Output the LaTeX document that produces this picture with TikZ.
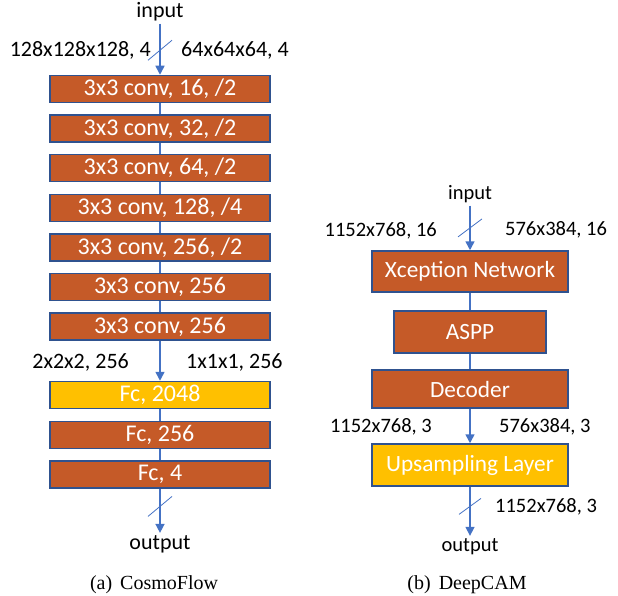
\documentclass[tikz,border=0pt]{standalone}
\usepackage{fontspec}
\setmainfont{Carlito}
\newfontfamily\capfont{Liberation Serif}
\usetikzlibrary{arrows.meta}

\definecolor{layerbrown}{HTML}{C55A28}
\definecolor{fcyellow}{HTML}{FFC000}
\definecolor{edgeblue}{HTML}{2F528F}
\definecolor{flowblue}{HTML}{4472C4}

\begin{document}
\begin{tikzpicture}[x=1pt,y=-1pt,
		font=\fontsize{22}{26}\selectfont,
		layer/.style={draw=edgeblue,line width=1.5pt,fill=layerbrown,text=white,inner sep=0pt,font=\fontsize{24}{28}\selectfont},
		fc/.style={layer,fill=fcyellow},
		tag/.style={inner sep=2pt},
		flow/.style={flowblue,line width=1.5pt},
		into/.style={flow,-{Triangle[length=9pt,width=9pt]}},
		cut/.style={flowblue,line width=0.8pt},
		caption/.style={font=\capfont\fontsize{20}{24}\selectfont,anchor=base}]
	\useasboundingbox (0,0) rectangle (618,596);

	% (a) CosmoFlow
	\node[tag,anchor=base] (in1) at (160,18) {input};
	\node[layer,minimum width=220pt,minimum height=27pt] (c1) at (160,89) {3x3 conv, 16, /2};
	\node[layer,minimum width=220pt,minimum height=27pt] (c2) at (160,128.6) {3x3 conv, 32, /2};
	\node[layer,minimum width=220pt,minimum height=27pt] (c3) at (160,168.2) {3x3 conv, 64, /2};
	\node[layer,minimum width=220pt,minimum height=27pt] (c4) at (160,207.8) {3x3 conv, 128, /4};
	\node[layer,minimum width=220pt,minimum height=27pt] (c5) at (160,247.4) {3x3 conv, 256, /2};
	\node[layer,minimum width=220pt,minimum height=27pt] (c6) at (160,287) {3x3 conv, 256};
	\node[layer,minimum width=220pt,minimum height=27pt] (c7) at (160,326.6) {3x3 conv, 256};
	\node[fc,minimum width=220pt,minimum height=27pt] (f1) at (160,395) {Fc, 2048};
	\node[layer,minimum width=220pt,minimum height=27pt] (f2) at (160,435) {Fc, 256};
	\node[layer,minimum width=220pt,minimum height=27pt] (f3) at (160,474.5) {Fc, 4};
	\node[tag,anchor=base] (out1) at (160,549) {output};

	\node[tag,anchor=east] (l1) at (153,50) {128x128x128, 4};
	\node[tag,anchor=west] (r1) at (179,50) {64x64x64, 4};
	\node[tag,anchor=east] (l2) at (131,362) {2x2x2, 256};
	\node[tag,anchor=west] (r2) at (184,362) {1x1x1, 256};

	\draw[into] (in1) -- coordinate[pos=0.52] (s1) (c1);
	\draw[flow] (c1) -- (c2);
	\draw[flow] (c2) -- (c3);
	\draw[flow] (c3) -- (c4);
	\draw[flow] (c4) -- (c5);
	\draw[flow] (c5) -- (c6);
	\draw[flow] (c6) -- (c7);
	\draw[into] (c7) -- (f1);
	\draw[flow] (f1) -- (f2);
	\draw[flow] (f2) -- (f3);
	\draw[into] (f3) -- coordinate[pos=0.4] (s2) (out1);
	\draw[cut] ([shift={(-12,10)}]s1) -- ([shift={(12,-10)}]s1);
	\draw[cut] ([shift={(-12,10)}]s2) -- ([shift={(12,-10)}]s2);

	\node[caption] (capa) at (154,589) {(a)\hspace{8pt}CosmoFlow};

	% (b) DeepCAM
	\begin{scope}[font=\fontsize{20.5}{24}\selectfont,layer/.append style={font=\fontsize{23.3}{27}\selectfont}]
	\node[tag,anchor=base] (in2) at (470,200) {input};
	\node[layer,minimum width=196pt,minimum height=41pt] (xc) at (470,271.5) {Xception Network};
	\node[layer,minimum width=152pt,minimum height=42pt] (aspp) at (470,332) {ASPP};
	\node[layer,minimum width=196pt,minimum height=38pt] (dec) at (470,389) {Decoder};
	\node[fc,minimum width=196pt,minimum height=42pt] (up) at (470,465) {Upsampling Layer};
	\node[tag,anchor=base] (out2) at (470,551) {output};

	\node[tag,anchor=east] (l3) at (439,231) {1152x768, 16};
	\node[tag,anchor=west] (r3) at (503,230) {576x384, 16};
	\node[tag,anchor=east] (l4) at (434,427) {1152x768, 3};
	\node[tag,anchor=west] (r4) at (497,427) {576x384, 3};
	\node[tag,anchor=west] (r5) at (493,507) {1152x768, 3};
	\end{scope}

	\draw[into] (in2) -- coordinate[pos=0.5] (s3) (xc);
	\draw[flow] (xc) -- (aspp);
	\draw[flow] (aspp) -- (dec);
	\draw[into] (dec) -- (up);
	\draw[into] (up) -- coordinate[pos=0.4] (s4) (out2);
	\draw[cut] ([shift={(-12,9)}]s3) -- ([shift={(12,-9)}]s3);
	\draw[cut] ([shift={(-11,8)}]s4) -- ([shift={(11,-8)}]s4);

	\node[caption] (capb) at (467,589) {(b)\hspace{8pt}DeepCAM};

\end{tikzpicture}
\end{document}
